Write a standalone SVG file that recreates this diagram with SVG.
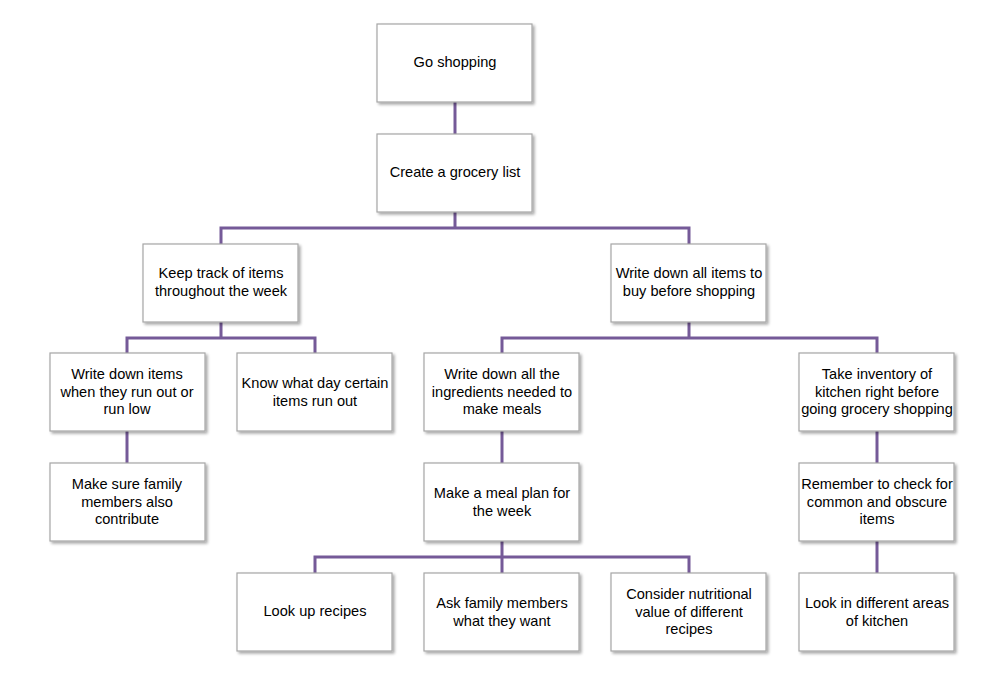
<svg xmlns="http://www.w3.org/2000/svg" width="991" height="680" viewBox="0 0 991 680">
  <defs>
    <filter id="shadow" x="-10%" y="-10%" width="125%" height="130%">
      <feGaussianBlur in="SourceAlpha" stdDeviation="1.5"/>
      <feOffset dx="2" dy="2" result="b"/>
      <feComponentTransfer><feFuncA type="linear" slope="0.35"/></feComponentTransfer>
      <feMerge><feMergeNode/><feMergeNode in="SourceGraphic"/></feMerge>
    </filter>
  </defs>
  <style>
    .box { fill: #ffffff; stroke: #a6a6a6; stroke-width: 1.2; filter: url(#shadow); }
    .lbl { font-family: "Liberation Sans", Arial, sans-serif; font-size: 14.6px; fill: #000000; text-anchor: middle; dominant-baseline: central; }
    .conn { fill: none; stroke: #755a98; stroke-width: 3; }
  </style>
  <rect width="991" height="680" fill="#ffffff"/>

  <g id="connectors">
    <path class="conn" d="M455 102 V134"/>
    <path class="conn" d="M455 212 V228 M221 244 V228 H689 V244"/>
    <path class="conn" d="M221 322 V338 M127 353 V338 H315 V353"/>
    <path class="conn" d="M689 322 V338 M502 353 V338 H877 V353"/>
    <path class="conn" d="M127 431 V463"/>
    <path class="conn" d="M502 431 V463"/>
    <path class="conn" d="M877 431 V463"/>
    <path class="conn" d="M502 541 V557 M315 573 V557 H689 V573 M502 557 V573"/>
    <path class="conn" d="M877 541 V573"/>
  </g>

  <g id="go-shopping">
    <rect class="box" x="377" y="24" width="155" height="78"/>
    <text class="lbl" x="455" y="62">Go shopping</text>
  </g>
  <g id="grocery-list">
    <rect class="box" x="377" y="134" width="155" height="78"/>
    <text class="lbl" x="455" y="172">Create a grocery list</text>
  </g>
  <g id="keep-track">
    <rect class="box" x="143" y="244" width="155" height="78"/>
    <text class="lbl" x="221" y="273">Keep track of items</text>
    <text class="lbl" x="221" y="291">throughout  the week</text>
  </g>
  <g id="write-all-items">
    <rect class="box" x="611" y="244" width="155" height="78"/>
    <text class="lbl" x="689" y="273">Write down  all items to</text>
    <text class="lbl" x="689" y="291">buy before shopping</text>
  </g>
  <g id="write-run-out">
    <rect class="box" x="50" y="353" width="155" height="78"/>
    <text class="lbl" x="127" y="374">Write down items</text>
    <text class="lbl" x="127" y="392">when they run out or</text>
    <text class="lbl" x="127" y="409">run low</text>
  </g>
  <g id="know-day">
    <rect class="box" x="237" y="353" width="155" height="78"/>
    <text class="lbl" x="315" y="383">Know what day certain</text>
    <text class="lbl" x="315" y="401">items run out</text>
  </g>
  <g id="write-ingredients">
    <rect class="box" x="424" y="353" width="155" height="78"/>
    <text class="lbl" x="502" y="374">Write down all the</text>
    <text class="lbl" x="502" y="392">ingredients needed to</text>
    <text class="lbl" x="502" y="409">make meals</text>
  </g>
  <g id="take-inventory">
    <rect class="box" x="799" y="353" width="155" height="78"/>
    <text class="lbl" x="877" y="374">Take inventory of</text>
    <text class="lbl" x="877" y="392">kitchen right before</text>
    <text class="lbl" x="877" y="409">going grocery shopping</text>
  </g>
  <g id="family-contribute">
    <rect class="box" x="50" y="463" width="155" height="78"/>
    <text class="lbl" x="127" y="484">Make sure family</text>
    <text class="lbl" x="127" y="502">members also</text>
    <text class="lbl" x="127" y="519">contribute</text>
  </g>
  <g id="meal-plan">
    <rect class="box" x="424" y="463" width="155" height="78"/>
    <text class="lbl" x="502" y="493">Make a meal plan for</text>
    <text class="lbl" x="502" y="511">the week</text>
  </g>
  <g id="check-items">
    <rect class="box" x="799" y="463" width="155" height="78"/>
    <text class="lbl" x="877" y="484">Remember to check for</text>
    <text class="lbl" x="877" y="502">common  and obscure</text>
    <text class="lbl" x="877" y="519">items</text>
  </g>
  <g id="look-up-recipes">
    <rect class="box" x="237" y="573" width="155" height="78"/>
    <text class="lbl" x="315" y="611">Look up recipes</text>
  </g>
  <g id="ask-family">
    <rect class="box" x="424" y="573" width="155" height="78"/>
    <text class="lbl" x="502" y="603">Ask family members</text>
    <text class="lbl" x="502" y="621">what they want</text>
  </g>
  <g id="nutrition">
    <rect class="box" x="611" y="573" width="155" height="78"/>
    <text class="lbl" x="689" y="594">Consider nutritional</text>
    <text class="lbl" x="689" y="612">value of different</text>
    <text class="lbl" x="689" y="629">recipes</text>
  </g>
  <g id="kitchen-areas">
    <rect class="box" x="799" y="573" width="155" height="78"/>
    <text class="lbl" x="877" y="603">Look in different areas</text>
    <text class="lbl" x="877" y="621">of kitchen</text>
  </g>
</svg>
